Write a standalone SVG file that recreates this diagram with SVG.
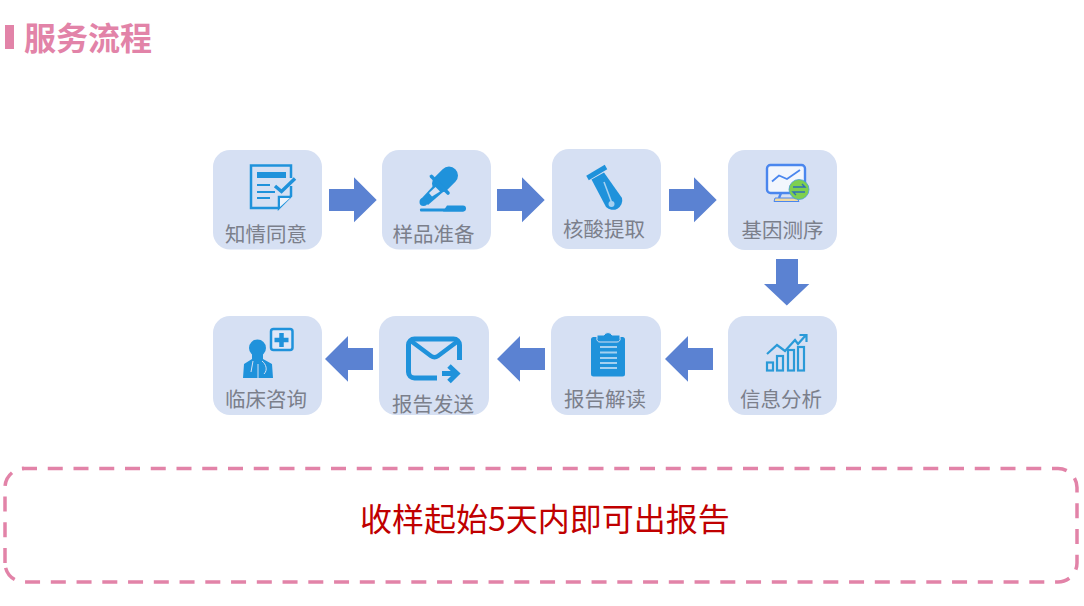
<svg xmlns="http://www.w3.org/2000/svg" width="1084" height="606" viewBox="0 0 1084 606">
<style>
text{font-family:"Noto Sans CJK SC","Noto Sans",sans-serif}
.box{fill:#d6e0f3}
.lbl{font-size:20.5px;fill:#7b7f8b;text-anchor:middle}
.arr{fill:#5b82d2}
.ic{fill:#1f92db}
.ol{fill:none;stroke:#1f92db}
.lt{fill:none;stroke:#a4d0f0}
.dash{fill:none;stroke:#e283a8;stroke-width:3.500;stroke-dasharray:15 10.750}
</style>
<rect width="1084" height="606" fill="#fff"/>
<g id="title">
<rect x="5" y="25" width="9" height="24" fill="#e283a8"/>
<text x="24" y="50" font-size="32" font-weight="700" fill="#e283a8">服务流程</text>
</g>
<g id="connectors">
<path class="arr" d="M329 189H354V177.300L376.700 200 354 222.300V211H329Z"/>
<path class="arr" d="M497 189H522V177.300L544.700 200 522 222.300V211H497Z"/>
<path class="arr" d="M669 189H694V177.300L716.700 200 694 222.300V211H669Z"/>
<path class="arr" d="M776 259H798V284H809.300L786.800 305.500 764 284H776Z"/>
<path class="arr" d="M713 348H688V336L665 359 688 381.700V370H713Z"/>
<path class="arr" d="M545 348H520V336L497 359 520 381.700V370H545Z"/>
<path class="arr" d="M373 348H348V336L325 359 348 381.700V370H373Z"/>
</g>
<g id="node-1">
<rect class="box" x="213" y="150" width="109" height="99.500" rx="17"/>
<path class="ol" stroke-width="2.500" d="M279 208H251V165.500H291V178M291 186V196L279 208V197H291"/>
<path fill="#eef3fb" d="M280 198H290L280 207Z"/>
<rect class="ic" x="257" y="172" width="29" height="6"/>
<path class="ol" stroke-width="2.200" d="M257 185H270M257 192H275M257 198H270"/>
<path class="ol" stroke-width="3.500" d="M275 186L281.500 191.500 295 178.500"/>
<text class="lbl" x="266" y="242">知情同意</text>
</g>
<g id="node-2">
<rect class="box" x="382" y="150" width="109" height="99.500" rx="17"/>
<path class="ol" stroke-width="18" stroke-linecap="round" d="M449 175.500L441 183.500"/>
<path class="ol" stroke-width="3.600" stroke-linecap="round" d="M431.500 176.500L448 193"/>
<path class="ic" d="M435 184L443 192 428 205 421 199Z"/>
<path fill="#d6e0f3" d="M435.500 187L440 191.500 432 196.500 429 193Z"/>
<circle class="ic" cx="423.500" cy="202" r="4"/>
<rect class="ic" x="420" y="208.500" width="44" height="3" rx="1"/>
<path class="ic" d="M443 211.500L447 205.500H463A3 3 0 0 1 463 211.500Z"/>
<text class="lbl" x="433.500" y="242">样品准备</text>
</g>
<g id="node-3">
<rect class="box" x="552" y="149" width="109" height="100" rx="17"/>
<path class="ol" stroke-width="5" d="M587.500 178L606 167"/>
<path class="ic" d="M591.500 179.500L604 172.500 622 198A9.500 9.500 0 0 1 606 207Z"/>
<path class="lt" stroke-width="1.600" d="M604 182L611.500 202"/>
<circle cx="611.500" cy="204" r="3" fill="#a4d0f0"/>
<text class="lbl" x="604" y="237">核酸提取</text>
</g>
<g id="node-4">
<rect class="box" x="728" y="150" width="109" height="100" rx="17"/>
<rect x="767" y="165" width="38" height="28" rx="3.500" fill="#f2f6fd" stroke="#4a86ee" stroke-width="2.400"/>
<path fill="none" stroke="#4a86ee" stroke-width="1.800" d="M772 181.500L779 175.500 787 179 800 170"/>
<path fill="none" stroke="#4a86ee" stroke-width="2.400" d="M781 193L779 198"/>
<path d="M775 198H797L799 201.500H774Z" fill="#f0d9a0" stroke="#4a86ee" stroke-width="1"/>
<circle cx="799" cy="189.500" r="10" fill="#7ed04f" stroke="#4a9ed8" stroke-width=".8"/>
<path fill="none" stroke="#2f6fb8" stroke-width="1.400" d="M793 187H805L802 184M805 192H793L796 195"/>
<text class="lbl" x="782.500" y="238">基因测序</text>
</g>
<g id="node-5">
<rect class="box" x="728" y="316" width="109" height="99" rx="17"/>
<g fill="none" stroke="#2a9ad8" stroke-width="2.200">
<rect x="767" y="362.500" width="6" height="8"/>
<rect x="777" y="356" width="6" height="14.500"/>
<rect x="788" y="350" width="6" height="20.500"/>
<rect x="798" y="347" width="6" height="23.500"/>
<path d="M767 354L777 345 785 351 795 340 798 344 806 335M799.500 335H806.500V342"/>
</g>
<text class="lbl" x="781" y="407">信息分析</text>
</g>
<g id="node-6">
<rect class="box" x="551" y="316" width="110" height="99" rx="17"/>
<rect class="ic" x="591" y="337" width="34" height="39.500" rx="2.500"/>
<path class="ic" d="M597 338V335H604A4.500 4.500 0 0 1 612 335H620V338A3 3 0 0 1 617 342H600A3 3 0 0 1 597 338Z" stroke="#d6e0f3" stroke-width="1"/>
<path class="lt" stroke-width="2" d="M600 347H617M600 352.500H617M600 358H617M600 363H617M600 368H617"/>
<text class="lbl" x="605" y="407">报告解读</text>
</g>
<g id="node-7">
<rect class="box" x="379" y="316" width="110" height="99" rx="17"/>
<path class="ol" stroke-width="5" stroke-linejoin="round" d="M459.500 360V345A6 6 0 0 0 453.500 339H414.500A6 6 0 0 0 408.500 345V372A6 6 0 0 0 414.500 378H437"/>
<path class="ol" stroke-width="4.500" d="M411 341L431 356A6 6 0 0 0 438 356L458 341"/>
<path class="ol" stroke-width="5" d="M442 373.500H457M449 366L457 373.500 449 381.500"/>
<text class="lbl" x="433" y="412">报告发送</text>
</g>
<g id="node-8">
<rect class="box" x="213" y="316" width="109" height="99" rx="17"/>
<circle class="ic" cx="257.500" cy="348" r="8.500"/>
<path class="ic" d="M252 354H263V359L272 364 273 378H243L244 364 252 359Z"/>
<path fill="none" stroke="#d6e0f3" stroke-width="1" d="M253 361L251 372M262 361C266 364 268 370 264 374M258 364V378"/>
<rect x="271" y="329" width="21.500" height="21" rx="2.500" fill="#dfe7f7" stroke="#1f92db" stroke-width="2.500"/>
<path class="ol" stroke-width="4.500" d="M281.500 333V347M274.500 340H288.500"/>
<text class="lbl" x="266" y="407">临床咨询</text>
</g>
<g id="note">
<path class="dash" d="M22 468.500H1058A19 19 0 0 1 1077 487.500V563A19 19 0 0 1 1058 582H24A19 19 0 0 1 5 563"/>
<path class="dash" d="M5 563V487.500A19 19 0 0 1 24 468.500"/>
<text x="545" y="531" font-size="32" fill="#c00000" text-anchor="middle">收样起始5天内即可出报告</text>
</g>
</svg>
